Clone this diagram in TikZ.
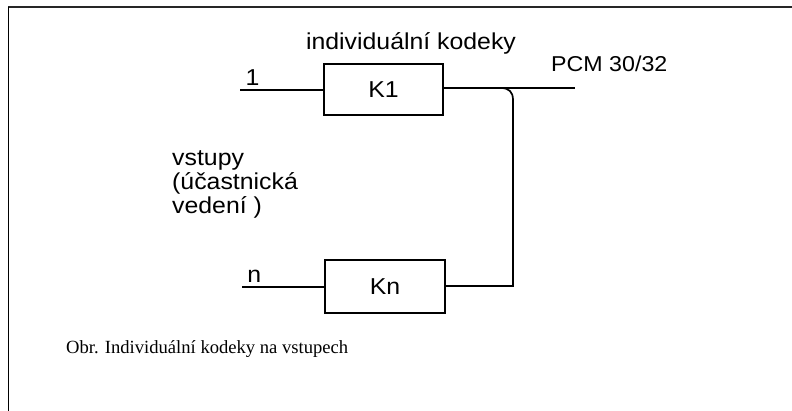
\documentclass[tikz,border=0pt]{standalone}
\usepackage{fontspec}
\setmainfont{Liberation Serif}
\newfontfamily\handfont[FakeStretch=1.08]{Liberation Sans}
\usetikzlibrary{positioning,calc}

\begin{document}
\begin{tikzpicture}[x=1pt,y=-1pt,
    kod/.style={draw,line width=2pt,minimum width=119pt,minimum height=51pt,inner sep=0pt,font=\handfont\fontsize{23}{25}\selectfont},
    wire/.style={line width=1.7pt},
    hand/.style={font=\handfont\fontsize{23}{24}\selectfont,inner sep=0pt}
  ]
    \useasboundingbox (0,0) rectangle (792,411);
    % frame
    \draw[line width=2.2pt,black!85] (8,7) -- (792,7);
    \draw[line width=1.6pt] (8.5,7) -- (8.5,411);
    % codecs
    \node[kod](K1) at (383.5,89.5) {K1};
    \node[kod,minimum width=120pt,minimum height=53pt](Kn) at (385,286.5) {Kn};
    \node[hand](hd) at (411,43) {individuální kodeky};
    % inputs
    \coordinate (i1) at (240,90);
    \coordinate (in) at (242,287);
    \draw[wire](i1)--node[hand,pos=0.15,above=4pt]{1}(K1.west|-i1);
    \draw[wire](in)--node[hand,pos=0.15,above=4pt]{n}(Kn.west|-in);
    \node[hand,align=left,anchor=north west](vs) at (172,150) {vstupy\\(účastnická\\vedení )};
    % output
    \coordinate (out) at (575,88);
    \coordinate (jb) at (513,286);
    \coordinate (jt) at (513,100);
    \coordinate (jl) at (501,88);
    \draw[wire](K1.east|-out)--(out);
    \draw[wire](Kn.east|-jb)--(jb)--(jt) .. controls (513,92) and (509,88) .. (jl);
    \node[hand,font=\handfont\fontsize{21.5}{23}\selectfont,anchor=south west](pcm) at (551,72) {PCM 30/32};
    % caption
    \node[font=\fontsize{18.6}{21}\selectfont,anchor=west,inner sep=0pt](cap) at (66,349) {Obr. Individuální kodeky na vstupech};
  \end{tikzpicture}
\end{document}
